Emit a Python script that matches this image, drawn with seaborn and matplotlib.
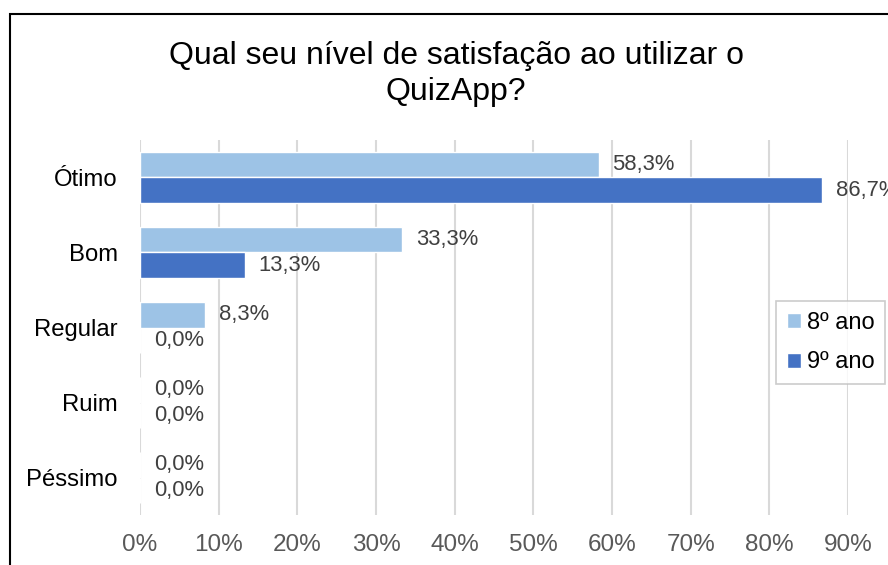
import matplotlib
matplotlib.use("Agg")
import matplotlib.pyplot as plt
from matplotlib.patches import Rectangle
import seaborn as sns
import pandas as pd

categories = ["Ótimo", "Bom", "Regular", "Ruim", "Péssimo"]
series_names = ["8º ano", "9º ano"]
ano8 = [58.3, 33.3, 8.3, 0.0, 0.0]
ano9 = [86.7, 13.3, 0.0, 0.0, 0.0]
xticks = [0, 10, 20, 30, 40, 50, 60, 70, 80, 90]
title = "Qual seu nível de satisfação ao utilizar o\nQuizApp?"
colors = ["#9DC3E6", "#4472C4"]

df = pd.DataFrame({
    "Categoria": categories * 2,
    "Valor": ano8 + ano9,
    "Ano": [series_names[0]] * len(categories) + [series_names[1]] * len(categories),
})

sns.set_theme(style="white")
plt.rcParams["font.family"] = ["Liberation Sans", "DejaVu Sans"]

fig = plt.figure(figsize=(8.88, 5.65), dpi=100)
ax = fig.add_axes([140/888, 1-515/565, 708/888, 375/565])

sns.barplot(data=df, y="Categoria", x="Valor", hue="Ano", order=categories,
            hue_order=series_names, palette=colors, orient="h", width=0.69,
            saturation=1, ax=ax, legend=True)

for cont in ax.containers:
    vals = [b.get_width() for b in cont]
    ax.bar_label(cont, labels=[f"{v:.1f}%".replace(".", ",") for v in vals],
                 padding=10, fontsize=15.8, color="#404040", clip_on=False)

ax.set_xlim(0, 90)
ax.set_xticks(xticks)
ax.set_xticklabels([f"{t}%" for t in xticks], fontsize=17.5, color="#595959")
ax.tick_params(axis="x", length=0, pad=14)
ax.tick_params(axis="y", length=0, pad=16, labelsize=17.2, labelcolor="black")
ax.set_xlabel("")
ax.set_ylabel("")
ax.grid(axis="x", color="#d9d9d9", linewidth=1.5)
ax.set_axisbelow(True)
for s in ax.spines.values():
    s.set_visible(False)

leg = ax.legend(loc="center", bbox_to_anchor=(830.5/888, 1-342.5/565),
                bbox_transform=fig.transFigure, fontsize=17, frameon=True,
                handlelength=0.6, handleheight=0.6, handletextpad=0.25,
                labelspacing=0.75, borderpad=0.45, borderaxespad=0,
                fancybox=False)
leg.get_frame().set_edgecolor("#bfbfbf")
leg.get_frame().set_linewidth(1.2)
for t in leg.get_texts():
    t.set_color("black")

fig.text(456/888, 1-74/565, title, ha="center", va="center", fontsize=23,
         color="black", linespacing=1.3)

fig.add_artist(Rectangle((9.5/888, -0.05), 1.2, 1-13.5/565+0.05, fill=False,
                         lw=1.5, ec="black", transform=fig.transFigure,
                         clip_on=False))

fig.savefig("out.png", dpi=100, facecolor="white")
